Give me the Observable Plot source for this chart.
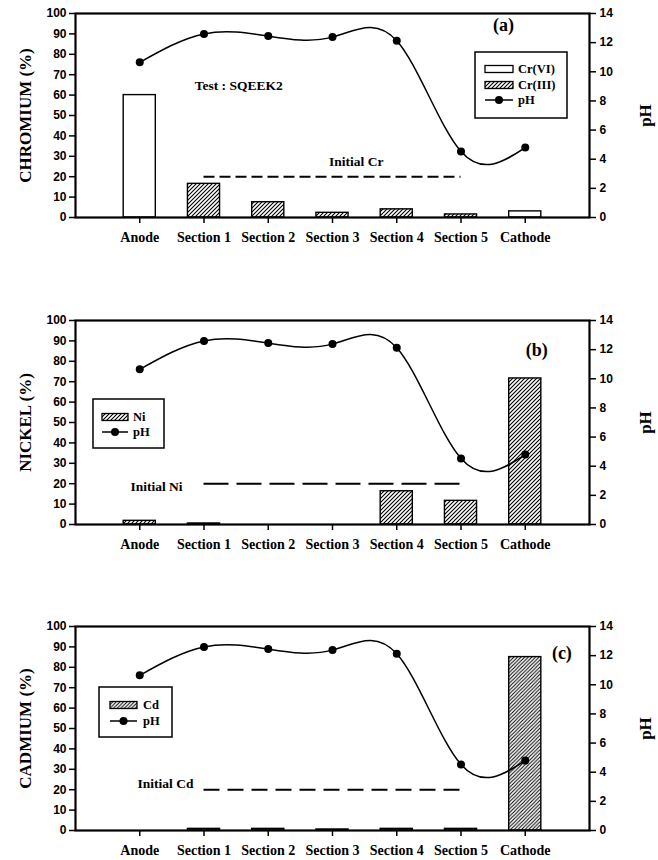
<!DOCTYPE html>
<html>
<head>
<meta charset="utf-8">
<script src="https://cdn.jsdelivr.net/npm/d3@7"></script>
<script src="https://cdn.jsdelivr.net/npm/@observablehq/plot@0.6"></script>
<style>
  body { margin: 0; background: #fff; }
  #fig { position: relative; width: 658px; height: 860px; }
  .panel { position: absolute; left: 0; }
</style>
</head>
<body>
<div id="fig"></div>
<script>
// Cell positions along the electrokinetic cell
const sections = ["Anode", "Section 1", "Section 2", "Section 3", "Section 4", "Section 5", "Cathode"];
const positions = [1, 2, 3, 4, 5, 6, 7];

// Final soil pH after the test (same profile in all three panels)
const pH = [10.65, 12.6, 12.45, 12.38, 12.13, 4.53, 4.8];

// Metal distribution (% of initial mass)
const chromiumVI = [60, 0, 0, 0, 0, 0, 3];
const chromiumIII = [0, 16.5, 7.5, 2.3, 4, 1.5, 0];
const nickel = [1.8, 0.5, 0, 0, 16.3, 11.6, 71.6];
const cadmium = [0, 0.8, 0.8, 0.5, 0.8, 0.8, 85];

// Initial concentration reference, drawn from Section 1 to Section 5
const initialLevel = [20, 20, 20];
const initialSpan = [2, 6];

const leftTicks = d3.range(0, 101, 10);
const pHTicks = d3.range(0, 15, 2);
const pHtoPct = (v) => v * 100 / 14;

const serif = "'Liberation Serif', 'Times New Roman', serif";
const sans = "'Liberation Sans', Arial, sans-serif";

function rows(values) {
  return positions.map((p, i) => ({pos: p, value: values[i]})).filter((d) => d.value > 0);
}
const pHRows = positions.map((p, i) => ({pos: p, pH: pH[i]}));

// Legend box drawn in pixel space inside the plot SVG
function legend(box, entries) {
  return () => {
    const g = d3.create("svg:g");
    g.append("rect")
      .attr("x", box.x).attr("y", box.y).attr("width", box.w).attr("height", box.h)
      .attr("fill", "white").attr("stroke", "black").attr("stroke-width", 1.5);
    entries.forEach((e, i) => {
      const cy = box.y + box.rows[i];
      const x0 = box.x + box.sw[0], x1 = box.x + box.sw[1];
      if (e.type === "bar") {
        g.append("rect")
          .attr("x", x0).attr("y", cy - 3.5).attr("width", x1 - x0).attr("height", 7)
          .attr("fill", e.fill).attr("stroke", "black").attr("stroke-width", 1.3);
      } else {
        g.append("line").attr("x1", x0).attr("x2", x1).attr("y1", cy).attr("y2", cy)
          .attr("stroke", "black").attr("stroke-width", 1.5);
        g.append("circle").attr("cx", (x0 + x1) / 2).attr("cy", cy).attr("r", 4).attr("fill", "black");
      }
      g.append("text")
        .attr("x", box.x + box.tx).attr("y", cy).attr("dy", "0.35em")
        .attr("text-anchor", "start")
        .style("font-family", serif).style("font-weight", "bold").style("font-size", "12.5px")
        .attr("fill", "black").text(e.label);
    });
    return g.node();
  };
}

function addHatch(svg, id, spacing, width, color) {
  const s = spacing;
  const defs = d3.select(svg).insert("defs", ":first-child");
  const p = defs.append("pattern")
    .attr("id", id).attr("patternUnits", "userSpaceOnUse")
    .attr("width", s).attr("height", s);
  p.append("rect").attr("width", s).attr("height", s).attr("fill", "white");
  p.append("path")
    .attr("d", `M${-s / 4},${s / 4} L${s / 4},${-s / 4} M0,${s} L${s},0 M${s * 0.75},${s * 1.25} L${s * 1.25},${s * 0.75}`)
    .attr("stroke", color).attr("stroke-width", width);
}

function panel({top, bars, initialLabel, initialIndex, dash, metalLabel, tag, notes, legendMark, hatchId}) {
  const marks = [];
  for (const b of bars) {
    marks.push(Plot.rect(rows(b.values), {
      x1: (d) => d.pos - 0.25, x2: (d) => d.pos + 0.25, y1: 0, y2: "value",
      fill: b.fill, stroke: "black", strokeWidth: 1.4
    }));
  }
  marks.push(
    Plot.ruleY([initialLevel[initialIndex]], {
      x1: initialSpan[0], x2: initialSpan[1], stroke: "black", strokeWidth: 2, strokeDasharray: dash
    }),
    Plot.line(pHRows, {x: "pos", y: (d) => pHtoPct(d.pH), curve: "natural", stroke: "black", strokeWidth: 1.5}),
    Plot.dot(pHRows, {x: "pos", y: (d) => pHtoPct(d.pH), r: 4, fill: "black"}),
    Plot.text([initialLabel], {
      x: initialLabel.x, y: initialLabel.y, text: (d) => d.text, textAnchor: initialLabel.anchor,
      fontFamily: serif, fontWeight: "bold", fontSize: 13.5, fill: "black"
    }),
    Plot.text(notes, {
      x: "x", y: "y", text: "text", fontFamily: serif, fontWeight: "bold", fontSize: 13.5, fill: "black"
    }),
    Plot.text([tag], {
      x: tag.x, y: tag.y, text: (d) => d.text, fontFamily: serif, fontWeight: "bold", fontSize: 18, fill: "black"
    }),
    legendMark,
    Plot.frame({stroke: "black", strokeWidth: 2.2}),
    Plot.axisY(leftTicks, {
      anchor: "left", tickSize: 6, tickPadding: 3, label: null,
      fontFamily: sans, fontWeight: "bold", fontSize: 12, strokeWidth: 1.5
    }),
    Plot.axisY(pHTicks.map(pHtoPct), {
      anchor: "right", tickSize: 6, tickPadding: 4, label: null,
      tickFormat: (v) => Math.round(v * 14 / 100),
      fontFamily: sans, fontWeight: "bold", fontSize: 12, strokeWidth: 1.5
    }),
    Plot.axisX(positions, {
      anchor: "bottom", tickSize: 6, tickPadding: 9, label: null,
      tickFormat: (p) => sections[p - 1],
      fontFamily: serif, fontWeight: "bold", fontSize: 14, strokeWidth: 1.5
    }),
    Plot.text([metalLabel], {
      frameAnchor: "left", dx: -50, rotate: -90, textAnchor: "middle",
      fontFamily: serif, fontWeight: "bold", fontSize: 17, fill: "black"
    }),
    Plot.text(["pH"], {
      frameAnchor: "right", dx: 56, rotate: -90, textAnchor: "middle",
      fontFamily: serif, fontWeight: "bold", fontSize: 17, fill: "black"
    })
  );

  const svg = Plot.plot({
    width: 658,
    height: 247,
    marginTop: 13,
    marginBottom: 30,
    marginLeft: 75,
    marginRight: 69,
    x: {domain: [0, 8], axis: null},
    y: {domain: [0, 100], axis: null},
    style: {background: "white", color: "black", overflow: "visible"},
    marks
  });
  addHatch(svg, hatchId.id, hatchId.spacing, hatchId.width, hatchId.color);
  const div = document.createElement("div");
  div.className = "panel";
  div.style.top = top + "px";
  div.appendChild(svg);
  document.getElementById("fig").appendChild(div);
}

// (a) Chromium
panel({
  top: 0,
  hatchId: {id: "hatchA", spacing: 4, width: 1.1, color: "black"},
  bars: [
    {values: chromiumVI, fill: "white"},
    {values: chromiumIII, fill: "url(#hatchA)"}
  ],
  initialIndex: 0,
  initialLabel: {text: "Initial Cr", x: 4.37, y: 27.5, anchor: "middle"},
  dash: "11,5",
  metalLabel: "CHROMIUM (%)",
  tag: {text: "(a)", x: 6.66, y: 94.3},
  notes: [{text: "Test : SQEEK2", x: 2.54, y: 64.7}],
  legendMark: legend({x: 475, y: 52, w: 92, h: 66, rows: [17, 33, 48], sw: [10, 38], tx: 43}, [
    {type: "bar", fill: "white", label: "Cr(VI)"},
    {type: "bar", fill: "url(#hatchA)", label: "Cr(III)"},
    {type: "line", label: "pH"}
  ])
});

// (b) Nickel
panel({
  top: 307,
  hatchId: {id: "hatchB", spacing: 4, width: 1.1, color: "black"},
  bars: [{values: nickel, fill: "url(#hatchB)"}],
  initialIndex: 1,
  initialLabel: {text: "Initial Ni", x: 1.26, y: 18.6, anchor: "middle"},
  dash: "25,8",
  metalLabel: "NICKEL (%)",
  tag: {text: "(b)", x: 7.18, y: 85.3},
  notes: [],
  legendMark: legend({x: 93, y: 92, w: 71, h: 49, rows: [18, 33], sw: [9, 35], tx: 40}, [
    {type: "bar", fill: "url(#hatchB)", label: "Ni"},
    {type: "line", label: "pH"}
  ])
});

// (c) Cadmium
panel({
  top: 613,
  hatchId: {id: "hatchC", spacing: 3.6, width: 1, color: "black"},
  bars: [{values: cadmium, fill: "url(#hatchC)"}],
  initialIndex: 2,
  initialLabel: {text: "Initial Cd", x: 1.4, y: 23, anchor: "middle"},
  dash: "16,8",
  metalLabel: "CADMIUM (%)",
  tag: {text: "(c)", x: 7.57, y: 86.8},
  notes: [],
  legendMark: legend({x: 99, y: 74, w: 73, h: 50, rows: [18, 34], sw: [11, 38], tx: 44}, [
    {type: "bar", fill: "url(#hatchC)", label: "Cd"},
    {type: "line", label: "pH"}
  ])
});
</script>
</body>
</html>
